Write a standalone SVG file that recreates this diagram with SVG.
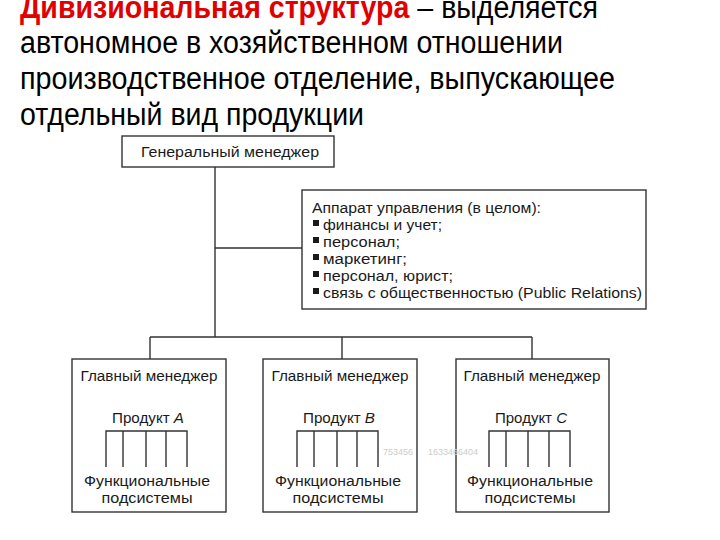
<svg xmlns="http://www.w3.org/2000/svg" width="720" height="540" viewBox="0 0 720 540">
<style>
.t{font-family:"Liberation Sans",Arial,sans-serif;font-size:31px;fill:#000}
.r{fill:#e00000;font-weight:bold}
.n{font-family:"Liberation Sans",Arial,sans-serif;font-size:15.5px;fill:#1a1a1a}
.c{text-anchor:middle}
.box{fill:#fff;stroke:#333;stroke-width:1.4}
.ln{stroke:#333;stroke-width:1.4;fill:none}
.wm{font-family:"Liberation Sans",Arial,sans-serif;font-size:9px;fill:#ccc}
</style>
<rect width="720" height="540" fill="#fff"/>
<g id="title">
<text class="t" x="20" y="18" textLength="578" lengthAdjust="spacingAndGlyphs"><tspan class="r">Дивизиональная структура</tspan> – выделяется</text>
<text class="t" x="20" y="53" textLength="543" lengthAdjust="spacingAndGlyphs">автономное в хозяйственном отношении</text>
<text class="t" x="20" y="89" textLength="595" lengthAdjust="spacingAndGlyphs">производственное отделение, выпускающее</text>
<text class="t" x="20" y="125" textLength="344" lengthAdjust="spacingAndGlyphs">отдельный вид продукции</text>
</g>
<g id="general">
<rect class="box" x="122" y="136" width="212" height="31"/>
<text class="n c" x="230" y="157" textLength="178" lengthAdjust="spacingAndGlyphs">Генеральный менеджер</text>
</g>
<g id="apparatus">
<rect class="box" x="302" y="190" width="344" height="119"/>
<text class="n" x="312" y="213" textLength="229" lengthAdjust="spacingAndGlyphs">Аппарат управления (в целом):</text>
<g fill="#1a1a1a">
<rect x="313" y="220" width="6" height="6"/>
<rect x="313" y="237" width="6" height="6"/>
<rect x="313" y="254" width="6" height="6"/>
<rect x="313" y="271" width="6" height="6"/>
<rect x="313" y="288" width="6" height="6"/>
</g>
<text class="n" x="323" y="230" textLength="119" lengthAdjust="spacingAndGlyphs">финансы и учет;</text>
<text class="n" x="323" y="247" textLength="77" lengthAdjust="spacingAndGlyphs">персонал;</text>
<text class="n" x="323" y="264" textLength="84" lengthAdjust="spacingAndGlyphs">маркетинг;</text>
<text class="n" x="323" y="281" textLength="130" lengthAdjust="spacingAndGlyphs">персонал, юрист;</text>
<text class="n" x="323" y="298" textLength="319" lengthAdjust="spacingAndGlyphs">связь с общественностью (Public Relations)</text>
</g>
<g id="divA">
<rect class="box" x="72" y="359" width="154" height="153"/>
<text class="n c" x="149" y="381" textLength="137" lengthAdjust="spacingAndGlyphs">Главный менеджер</text>
<text class="n c" x="148" y="423" textLength="72" lengthAdjust="spacingAndGlyphs">Продукт <tspan font-style="italic">A</tspan></text>
<text class="n c" x="147" y="486" textLength="126" lengthAdjust="spacingAndGlyphs">Функциональные</text>
<text class="n c" x="147" y="503" textLength="91" lengthAdjust="spacingAndGlyphs">подсистемы</text>
</g>
<g id="divB">
<rect class="box" x="263" y="359" width="154" height="153"/>
<text class="n c" x="340" y="381" textLength="137" lengthAdjust="spacingAndGlyphs">Главный менеджер</text>
<text class="n c" x="339" y="423" textLength="72" lengthAdjust="spacingAndGlyphs">Продукт <tspan font-style="italic">B</tspan></text>
<text class="n c" x="338" y="486" textLength="126" lengthAdjust="spacingAndGlyphs">Функциональные</text>
<text class="n c" x="338" y="503" textLength="91" lengthAdjust="spacingAndGlyphs">подсистемы</text>
</g>
<g id="divC">
<rect class="box" x="456" y="359" width="153" height="153"/>
<text class="n c" x="532" y="381" textLength="137" lengthAdjust="spacingAndGlyphs">Главный менеджер</text>
<text class="n c" x="531" y="423" textLength="72" lengthAdjust="spacingAndGlyphs">Продукт <tspan font-style="italic">C</tspan></text>
<text class="n c" x="530" y="486" textLength="126" lengthAdjust="spacingAndGlyphs">Функциональные</text>
<text class="n c" x="530" y="503" textLength="91" lengthAdjust="spacingAndGlyphs">подсистемы</text>
</g>
<g id="watermark">
<text class="wm" x="383" y="455">753456</text>
<text class="wm" x="428" y="455">1633466404</text>
</g>
<g id="connectors">
<path class="ln" d="M215 167V337M215 248H302M150 337H532M150 337V359M342 337V359M532 337V359"/>
<path class="ln" d="M106 467V431H187V467M123 431V467M146 431V467M166 431V467"/>
<path class="ln" d="M297 467V431H378V467M314 431V467M337 431V467M357 431V467"/>
<path class="ln" d="M489 467V431H570V467M506 431V467M528 431V467M549 431V467"/>
</g>
</svg>
